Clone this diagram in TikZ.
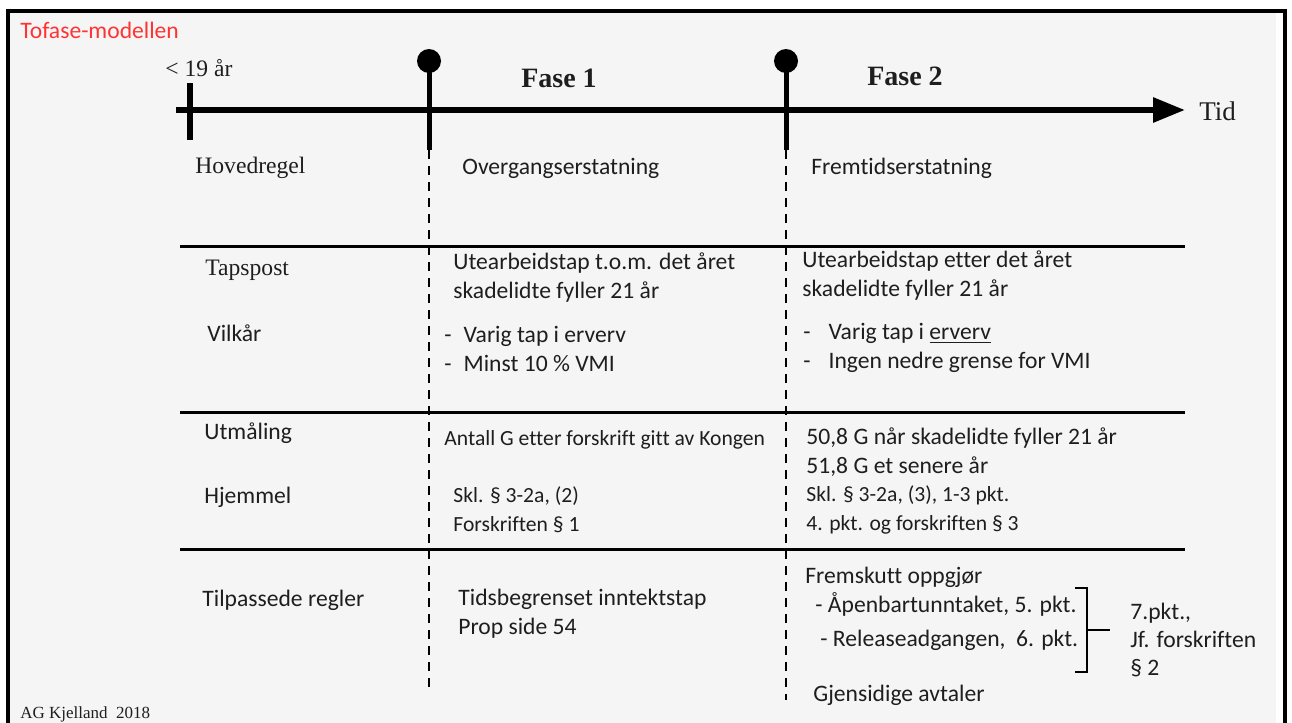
\documentclass[tikz,border=0pt]{standalone}
\usepackage{fontspec}
\setmainfont{Liberation Serif}
\newfontfamily\calfont[Ligatures=NoCommon]{Carlito}
\usetikzlibrary{arrows.meta,positioning}
\definecolor{bggray}{RGB}{245,245,245}
\definecolor{titlered}{RGB}{255,51,51}
\definecolor{textgray}{RGB}{30,30,30}

\begin{document}
\begin{tikzpicture}[x=0.5pt,y=-0.5pt,>={Triangle[length=16pt,width=12pt]},
  serif/.style={font=\fontsize{11.8}{14}\selectfont,text=textgray,anchor=west,inner sep=0pt},
  cal/.style={font=\calfont\fontsize{11.8}{14.5}\selectfont,text=textgray,anchor=west,inner sep=0pt,align=left},
  calsmall/.style={cal,font=\calfont\fontsize{10.8}{14.5}\selectfont},
  gridline/.style={line width=1.3pt,dash pattern=on 4.5pt off 3.5pt},
  rule/.style={line width=1.5pt}]
  \useasboundingbox (0,0) rectangle (1292,723);
  % Frame
  \fill[bggray] (8,12) rectangle (1276,723);
  \draw[line width=2pt] (8,723) -- (8,11) -- (1285,11) -- (1285,723);
  \node[cal,text=titlered] (title) at (20,30) {Tofase-modellen};
  % Time axis
  \coordinate (axstart) at (176,110);
  \coordinate (axend) at (1185,110);
  \draw[->,line width=3pt] (axstart) -- (axend);
  \node[serif,font=\fontsize{13.5}{16}\selectfont] (tid) at (1199,111) {Tid};
  \coordinate (t0top) at (190,83);
  \coordinate (t0bot) at (190,140);
  \draw[line width=3pt] (t0top) -- (t0bot);
  \node[serif,anchor=center] (alder) at (199,68) {< 19 år};
  % Phase markers
  \foreach \n/\x/\e in {p1/429/692,p2/786/700} {
    \coordinate (\n) at (\x,61);
    \coordinate (\n s) at (\x,150);
    \coordinate (\n e) at (\x,\e);
    \fill (\n) circle (6pt);
    \draw[line width=2.5pt] (\n) -- (\n s);
    \draw[gridline] (\n s) -- (\n e);
  }
  \node[serif,anchor=center,font=\bfseries\fontsize{14}{16}\selectfont] (fase1) at (559,78) {Fase 1};
  \node[serif,anchor=center,font=\bfseries\fontsize{14}{16}\selectfont] (fase2) at (905,76) {Fase 2};
  % Row rules
  \foreach \y in {246,412,549}
    \draw[rule] (180,\y) -- (1185,\y);
  % Hovedregel
  \node[serif] (hoved) at (195,168) {Hovedregel};
  \node[cal] (overg) at (462,168) {Overgangserstatning};
  \node[cal] (fremtid) at (811,168) {Fremtidserstatning};
  % Tapspost and vilkaar
  \node[serif] (taps) at (205,270) {Tapspost};
  \node[cal] (taps1) at (453,278) {Utearbeidstap t.o.m. det året\\skadelidte fyller 21 år};
  \node[cal] (taps2) at (802,276) {Utearbeidstap etter det året\\skadelidte fyller 21 år};
  \node[cal] (vilk) at (207,333) {Vilkår};
  \node[cal] (vilk1) at (444,349) {-\hspace{6pt}Varig tap i erverv\\-\hspace{6pt}Minst 10 \% VMI};
  \node[cal] (vilk2) at (803,348) {-\hspace{9pt}Varig tap i \underline{erverv}\\-\hspace{9pt}Ingen nedre grense for VMI};
  % Utmaaling and hjemmel
  \node[cal] (utmal) at (204,433) {Utmåling};
  \node[calsmall] (utmal1) at (444,440) {Antall G etter forskrift gitt av Kongen};
  \node[cal] (utmal2) at (806,452) {50,8 G når skadelidte fyller 21 år\\51,8 G et senere år};
  \node[cal] (hjem) at (204,497) {Hjemmel};
  \node[calsmall] (hjem1) at (453,510) {Skl. § 3-2a, (2)\\Forskriften § 1};
  \node[calsmall] (hjem2) at (806,510) {Skl. § 3-2a, (3), 1-3 pkt.\\4. pkt. og forskriften § 3};
  % Tilpassede regler
  \node[cal] (tilp) at (202,600) {Tilpassede regler};
  \node[cal] (tilp1) at (458,614) {Tidsbegrenset inntektstap\\Prop side 54};
  \node[cal] (frem) at (805,577) {Fremskutt oppgjør};
  \node[cal] (apen) at (815,604) {- Åpenbartunntaket, 5. pkt.};
  \node[cal] (rel) at (820,640) {- Releaseadgangen,\ \ 6. pkt.};
  \node[cal] (gjen) at (813,695) {Gjensidige avtaler};
  \coordinate (brk) at (1087,630);
  \draw[line width=1.2pt] (1075,588) -- (1087,588) -- (1087,672) -- (1075,672);
  \draw[line width=1.2pt] (brk) -- ++(23,0);
  \node[cal,font=\calfont\fontsize{11.8}{14}\selectfont] (pkt) at (1130,640) {7.pkt.,\\Jf. forskriften\\§ 2};
  % Signature
  \node[serif,font=\fontsize{8.5}{10}\selectfont] (sign) at (20,714) {AG Kjelland\ \ 2018};
\end{tikzpicture}
\end{document}
